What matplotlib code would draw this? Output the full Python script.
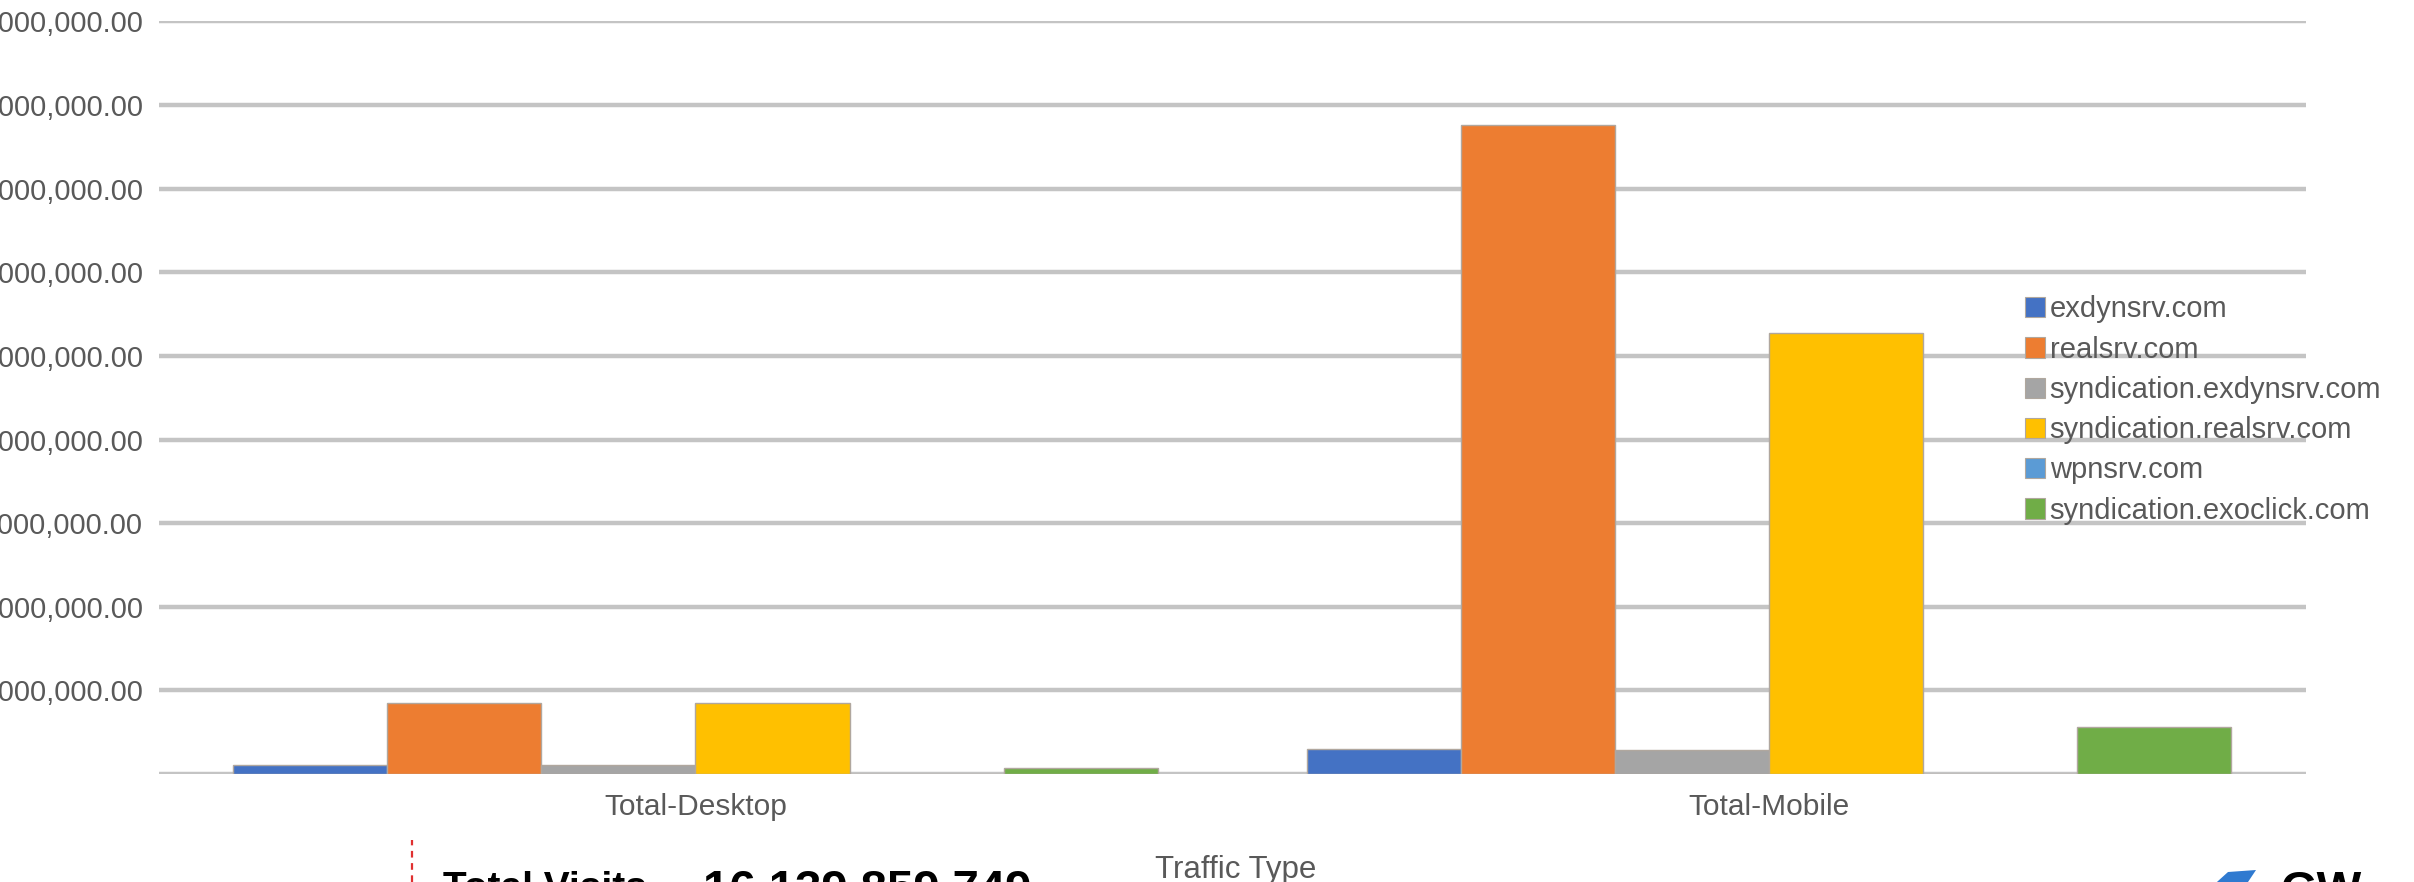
### IMPORTS ###
import numpy as np
import matplotlib
matplotlib.use("Agg")
import matplotlib.pyplot as plt
from matplotlib.patches import Polygon
from matplotlib.lines import Line2D

### DATA ###
CATEGORIES = ["Total-Desktop", "Total-Mobile"]
SERIES_NAMES = ["exdynsrv.com", "realsrv.com", "syndication.exdynsrv.com",
                "syndication.realsrv.com", "wpnsrv.com", "syndication.exoclick.com"]
# visits per series, one value per category (Desktop, Mobile)
EXDYNSRV = [0.108e9, 0.30e9]
REALSRV = [0.855e9, 7.76e9]
SYND_EXDYNSRV = [0.108e9, 0.29e9]
SYND_REALSRV = [0.855e9, 5.27e9]
WPNSRV = [0.0, 0.0]
SYND_EXOCLICK = [0.07e9, 0.56e9]
Y_TICKS = [0, 1e9, 2e9, 3e9, 4e9, 5e9, 6e9, 7e9, 8e9, 9e9]
TOTAL_LABEL = "Total Visits -"
TOTAL_VALUE = "16,139,859,749"

### STYLE ###
COLORS = ["#4472C4", "#ED7D31", "#A5A5A5", "#FFC000", "#5B9BD5", "#70AD47"]
GRID_COLOR = "#c4c4c4"
TEXT_COLOR = "#595959"
FONT = ["Liberation Sans", "DejaVu Sans"]

W, H, DPI = 2414, 882, 100


def main():
    plt.rcParams['font.family'] = FONT
    fig = plt.figure(figsize=(W / DPI, H / DPI), dpi=DPI)
    ax = fig.add_axes([0.0657, 0.1224, 0.8896, 0.8533])

    series = [EXDYNSRV, REALSRV, SYND_EXDYNSRV, SYND_REALSRV, WPNSRV, SYND_EXOCLICK]
    x = np.arange(len(CATEGORIES))
    bar_w = 0.1435
    for i, (name, vals) in enumerate(zip(SERIES_NAMES, series)):
        offs = (i - 2.5) * bar_w
        ax.bar(x + offs, vals, width=bar_w, color=COLORS[i], edgecolor="#b0a79e",
               linewidth=1.0, label=name, zorder=3)

    # gridlines like excel
    ax.set_ylim(0, 9e9)
    ax.set_xlim(-0.5, 1.5)
    ax.set_yticks(Y_TICKS)
    ax.set_yticklabels([""] + ["{:,.2f}".format(v) for v in Y_TICKS[1:]])
    ax.yaxis.grid(True, color=GRID_COLOR, linewidth=3.2, zorder=0)
    ax.set_axisbelow(True)
    for s in ax.spines.values():
        s.set_visible(False)
    ax.tick_params(axis="y", length=0, pad=11, labelsize=21, labelcolor=TEXT_COLOR)
    ax.set_xticks(x)
    ax.set_xticklabels(CATEGORIES)
    ax.tick_params(axis="x", length=0, pad=14, labelsize=21.5, labelcolor=TEXT_COLOR)

    fig.text(0.512, 1 - 855 / H, "Traffic Type", ha="center", va="top",
             fontsize=22.5, color=TEXT_COLOR)

    # legend sits on top of the gridlines, no frame
    handles = [plt.Rectangle((0, 0), 1, 1, facecolor=c, edgecolor="#b0a79e", linewidth=0.8)
               for c in COLORS]
    fig.legend(handles, SERIES_NAMES, loc="upper left", bbox_to_anchor=(0.839, 0.665),
               frameon=False, fontsize=21, labelcolor=TEXT_COLOR, handlelength=0.68,
               handleheight=0.68, handletextpad=0.15, labelspacing=0.42, borderpad=0,
               borderaxespad=0)

    # footer of the slide: total visits, red dashed divider, logo
    fig.add_artist(Line2D([412 / W, 412 / W], [0, 1 - 840 / H], color="#e03030",
                          linewidth=1.6, linestyle=(0, (3, 2.5))))
    fig.text(443 / W, 1 - 871 / H, TOTAL_LABEL, ha="left", va="top",
             fontsize=28, fontweight="bold", color="black")
    fig.text(703 / W, 1 - 869 / H, TOTAL_VALUE, ha="left", va="top",
             fontsize=34, fontweight="bold", color="black")

    logo = Polygon([(2197 / W, 1 - 900 / H), (2228 / W, 1 - 872 / H), (2256 / W, 1 - 870 / H),
                    (2236 / W, 1 - 900 / H)], closed=True, facecolor="#2f7ad0",
                   edgecolor="none", transform=fig.transFigure)
    fig.add_artist(logo)
    fig.text(2280 / W, 1 - 870 / H, "GW", ha="left", va="top", fontsize=34,
             fontweight="bold", color="black")

    fig.savefig("out.png", dpi=DPI)


if __name__ == "__main__":
    main()
